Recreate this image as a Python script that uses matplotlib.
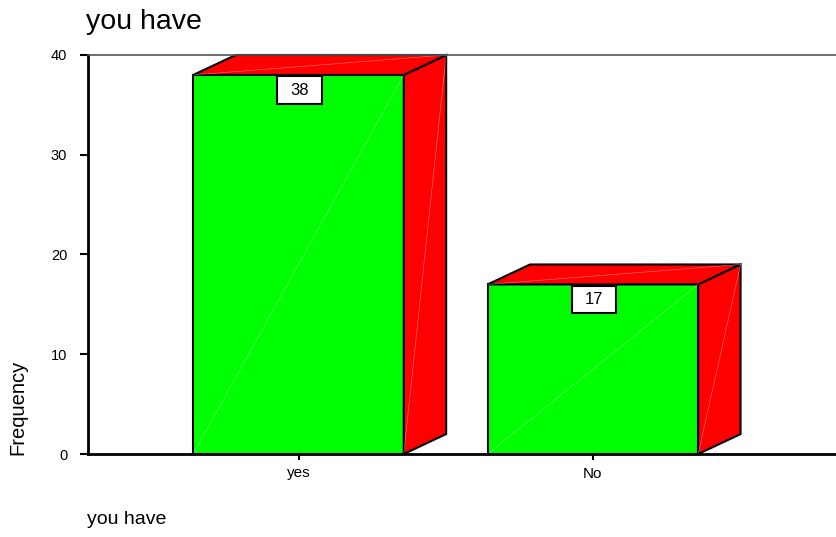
import matplotlib.pyplot as plt
from matplotlib.patches import Polygon, Rectangle

# Datos
categorias = ['yes', 'No']
frecuencias = [38, 17]
marcas_y = [0, 10, 20, 30, 40]

plt.rcParams['font.family'] = ['Liberation Sans', 'DejaVu Sans']

fig = plt.figure(figsize=(8.37, 5.37), dpi=100)
ax = fig.add_axes([88 / 837, 83 / 537, 749 / 837, 399 / 537])

# Dimensiones de las barras 3D
ancho = 0.715
dx = 0.144
dy = 2.0
verde = '#00ff00'
rojo = '#ff0000'

for i, n in enumerate(frecuencias):
    x0 = i - ancho / 2
    x1 = i + ancho / 2
    frente = Polygon([(x0, 0), (x1, 0), (x1, n), (x0, n)], closed=True,
                     facecolor=verde, edgecolor='black', lw=1.5, clip_on=False, zorder=2)
    lado = Polygon([(x1, 0), (x1 + dx, dy), (x1 + dx, n + dy), (x1, n)], closed=True,
                   facecolor=rojo, edgecolor='black', lw=1.5, clip_on=False, zorder=2)
    techo = Polygon([(x0, n), (x1, n), (x1 + dx, n + dy), (x0 + dx, n + dy)], closed=True,
                    facecolor=rojo, edgecolor='black', lw=1.5, clip_on=False, zorder=2)
    ax.add_patch(frente)
    ax.add_patch(lado)
    ax.add_patch(techo)
    # lineas tenues de las caras
    ax.plot([x0, x1], [0, n], color='white', lw=0.5, alpha=0.4, zorder=2.5, clip_on=False)
    ax.plot([x1, x1 + dx], [0, n + dy], color='white', lw=0.5, alpha=0.4, zorder=2.5, clip_on=False)
    ax.plot([x0, x1 + dx], [n, n + dy], color='white', lw=0.5, alpha=0.4, zorder=2.5, clip_on=False)

    # etiqueta de valor
    bw = 0.152
    bh = 2.75
    ytop = n - 0.15
    caja = Rectangle((i - bw / 2 + 0.004, ytop - bh), bw, bh, facecolor='white',
                     edgecolor='black', lw=1.5, zorder=3)
    ax.add_patch(caja)
    ax.text(i + 0.004, ytop - bh / 2, str(n), ha='center', va='center', fontsize=12, zorder=4)

ax.set_xlim(-0.715, 1.829)
ax.set_ylim(0, 40)
ax.set_xticks(range(len(categorias)), categorias)
ax.set_yticks(marcas_y)
ax.tick_params(axis='x', length=4, width=1.5, pad=5, labelsize=11)
ax.tick_params(axis='y', length=6, width=1.5, pad=9, labelsize=10.5)

ax.spines['right'].set_visible(False)
ax.spines['top'].set_color('#555555')
ax.spines['top'].set_linewidth(1.2)
ax.spines['left'].set_linewidth(2)
ax.spines['bottom'].set_linewidth(2)

fig.text(86 / 837, 1 - 22 / 537, 'you have', ha='left', va='center', fontsize=20.5)
fig.text(87 / 837, 1 - 520 / 537, 'you have', ha='left', va='center', fontsize=14)
fig.text(18 / 837, 1 - 455 / 537, 'Frequency', ha='center', va='bottom', rotation=90, fontsize=14.5)

plt.savefig('out.png', dpi=100)
